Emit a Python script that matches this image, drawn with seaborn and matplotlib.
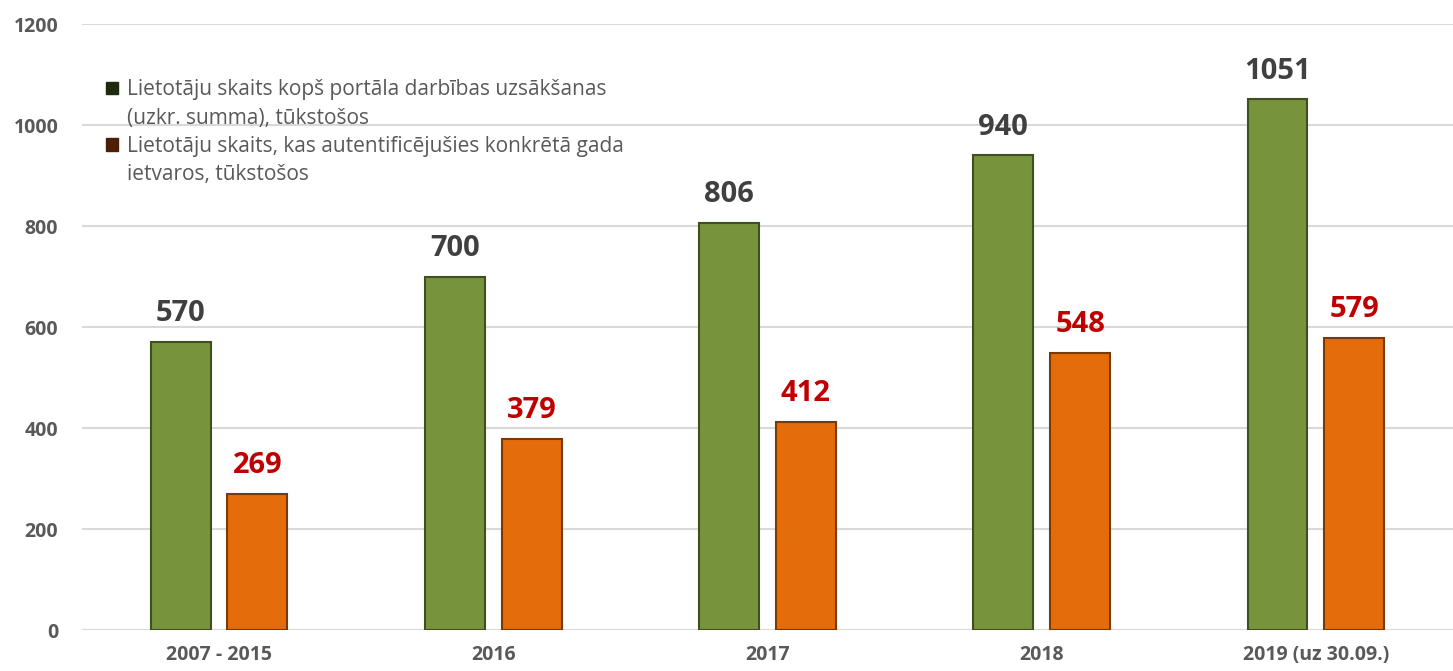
import numpy as np
import pandas as pd
import matplotlib
matplotlib.use("Agg")
import matplotlib.pyplot as plt
from matplotlib.patches import Patch
import seaborn as sns

categories = ["2007 - 2015", "2016", "2017", "2018", "2019 (uz 30.09.)"]
total_users = [570, 700, 806, 940, 1051]
yearly_users = [269, 379, 412, 548, 579]
series_names = [
    "Lietotāju skaits kopš portāla darbības uzsākšanas\n(uzkr. summa), tūkstošos",
    "Lietotāju skaits, kas autentificējušies konkrētā gada\nietvaros, tūkstošos",
]

df = pd.DataFrame({
    "cat": categories * 2,
    "val": total_users + yearly_users,
    "series": [series_names[0]] * len(categories) + [series_names[1]] * len(categories),
})

sns.set_theme(style="white")
plt.rcParams["font.family"] = ["Open Sans", "DejaVu Sans"]

BAR_COLORS = ["#77933C", "#E46C0A"]
EDGE_COLORS = ["#3F5020", "#7A3A08"]
LABEL_COLORS = ["#404040", "#C00000"]
LEGEND_COLORS = ["#1E2B0E", "#4A1F05"]

fig = plt.figure(figsize=(14.53, 6.71), dpi=100)
ax = fig.add_axes([0.0564, 0.061, 0.9436, 0.903])

sns.barplot(data=df, x="cat", y="val", hue="series", palette=BAR_COLORS,
            saturation=1, width=0.56, gap=0.22, legend=False, ax=ax)

for i, cont in enumerate(ax.containers):
    for bar in cont:
        bar.set_edgecolor(EDGE_COLORS[i])
        bar.set_linewidth(1.5)
    ax.bar_label(cont, padding=10, fontsize=21, fontweight="bold", color=LABEL_COLORS[i])

ax.set_ylim(0, 1200)
ax.set_yticks(range(0, 1201, 200))
ax.yaxis.grid(True, color="#D9D9D9", linewidth=1.5)
ax.set_axisbelow(True)
for s in ax.spines.values():
    s.set_visible(False)
ax.set_xlabel("")
ax.set_ylabel("")
ax.tick_params(axis="y", length=0, pad=17, labelsize=14, labelcolor="#595959")
ax.tick_params(axis="x", length=0, pad=11, labelsize=14, labelcolor="#595959")
for lbl in ax.get_yticklabels() + ax.get_xticklabels():
    lbl.set_fontweight("bold")

# legend: marker beside the first line of each (two-line) label
handles, labels = [], []
for name, col in zip(series_names, LEGEND_COLORS):
    first, second = name.split("\n")
    handles += [Patch(facecolor=col, edgecolor=col), Patch(facecolor="none", edgecolor="none")]
    labels += [first, second]
leg = ax.legend(handles, labels, loc="upper left", bbox_to_anchor=(0.004, 0.94),
                frameon=False, fontsize=15, handlelength=0.55, handleheight=0.55,
                handletextpad=0.45, labelspacing=0.35)
for t in leg.get_texts():
    t.set_color("#595959")

fig.savefig("out.png", dpi=100)
